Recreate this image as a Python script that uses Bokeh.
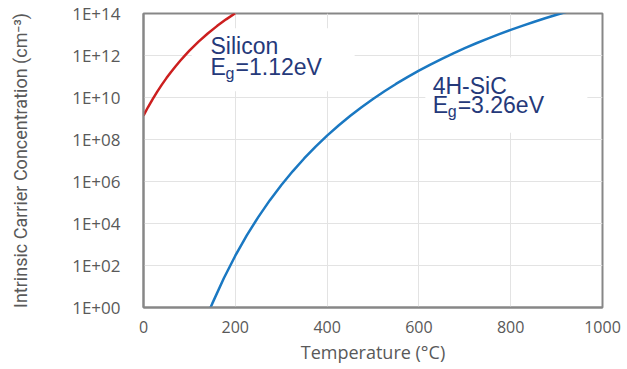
from bokeh.plotting import figure
from bokeh.models import Range1d, FixedTicker, CustomJSTickFormatter, Label
from bokeh.embed import file_html
from bokeh.resources import INLINE

# ---- data ----
si_temp = [0, 10, 20, 30, 40, 50, 60, 70, 80, 90, 100, 120, 140, 160, 180, 200]
si_conc = [1.38e9, 3.52e9, 8.45e9, 1.91e10, 4.10e10, 8.39e10, 1.65e11, 3.10e11, 5.65e11,
           9.95e11, 1.70e12, 4.57e12, 1.12e13, 2.51e13, 5.26e13, 1.03e14]

sic_temp = [146, 150, 175, 200, 225, 250, 275, 300, 325, 350, 375, 400, 425, 450, 475, 500,
            525, 550, 575, 600, 625, 650, 675, 700, 725, 750, 775, 800, 825, 850, 875, 900,
            925, 950]
sic_conc = [1.0, 1.57, 2.48e1, 2.93e2, 2.70e3, 2.02e4, 1.26e5, 6.65e5, 3.06e6, 1.25e7, 4.57e7,
            1.52e8, 4.63e8, 1.31e9, 3.44e9, 8.51e9, 1.99e10, 4.42e10, 9.35e10, 1.90e11,
            3.70e11, 6.95e11, 1.26e12, 2.23e12, 3.83e12, 6.40e12, 1.04e13, 1.66e13, 2.59e13,
            3.96e13, 5.94e13, 8.77e13, 1.27e14, 1.82e14]

x_ticks = [0, 200, 400, 600, 800, 1000]
y_ticks = [1e0, 1e2, 1e4, 1e6, 1e8, 1e10, 1e12, 1e14]
y_tick_labels = ["1E+00", "1E+02", "1E+04", "1E+06", "1E+08", "1E+10", "1E+12", "1E+14"]

si_name = "Silicon"
si_gap = "=1.12eV"
sic_name = "4H-SiC"
sic_gap = "=3.26eV"

GRAY = "#595959"
NAVY = "#25397a"

p = figure(width=627, height=369, output_backend="svg", toolbar_location=None,
           x_range=Range1d(0, 1000), y_range=Range1d(1, 1e14), y_axis_type="log",
           min_border_left=143, min_border_right=25, min_border_top=13, min_border_bottom=62)

p.background_fill_color = "white"
p.border_fill_color = "white"
p.outline_line_color = "#878787"
p.outline_line_width = 2

p.xaxis.ticker = FixedTicker(ticks=x_ticks)
p.yaxis.ticker = FixedTicker(ticks=y_ticks)
p.yaxis.formatter = CustomJSTickFormatter(args=dict(labels=y_tick_labels),
                                          code="return labels[Math.round(Math.log10(tick) / 2)];")

for ax in (p.xaxis, p.yaxis):
    ax.axis_line_color = "#878787"
    ax.axis_line_width = 2
    ax.major_tick_line_color = None
    ax.minor_tick_line_color = None
    ax.major_tick_out = 0
    ax.major_tick_in = 0
    ax.major_label_text_color = GRAY
    ax.major_label_text_font = "Open Sans"
    ax.major_label_text_font_size = "17px"

p.yaxis.major_label_standoff = 23
p.xaxis.major_label_standoff = 13
p.xaxis.major_label_text_font_size = "16px"

p.yaxis.axis_label = "Intrinsic Carrier Concentration (cm\u207b\u00b3)"
p.yaxis.axis_label_text_font = "Roboto"
p.yaxis.axis_label_text_font_size = "18px"
p.yaxis.axis_label_text_font_style = "normal"
p.yaxis.axis_label_text_color = GRAY
p.yaxis.axis_label_standoff = 38

p.xaxis.axis_label = "Temperature (\u00b0C)"
p.xaxis.axis_label_text_font = "Open Sans"
p.xaxis.axis_label_text_font_size = "18px"
p.xaxis.axis_label_text_font_style = "normal"
p.xaxis.axis_label_text_color = GRAY
p.xaxis.axis_label_standoff = 4

p.xgrid.grid_line_color = "#e3e3e3"
p.ygrid.grid_line_color = "#e3e3e3"
p.xgrid.grid_line_width = 1
p.ygrid.grid_line_width = 1
p.ygrid.minor_grid_line_color = None

# white text boxes behind the labels (over the grid, under the curves)
box_left = [105, 614]
box_right = [460, 967]
box_bottom = [2e10, 2.1e8]
box_top = [2e13, 8e11]
p.quad(left=box_left, right=box_right, bottom=box_bottom, top=box_top,
       fill_color="white", line_color=None)

p.line(si_temp, si_conc, line_color="#cc1f1f", line_width=2.5)
p.line(sic_temp, sic_conc, line_color="#1a78c2", line_width=2.5)

font = "Liberation Sans"


def add_label(x, y, name, gap):
    p.add_layout(Label(x=x, y=y[0], text=name, text_font=font, text_font_size="23px",
                       text_color=NAVY, text_baseline="alphabetic"))
    p.add_layout(Label(x=x, y=y[1], text="E", text_font=font, text_font_size="23px",
                       text_color=NAVY, text_baseline="alphabetic"))
    p.add_layout(Label(x=x, y=y[1], x_offset=15, y_offset=-6, text="g", text_font=font,
                       text_font_size="16px", text_color=NAVY, text_baseline="alphabetic"))
    p.add_layout(Label(x=x, y=y[1], x_offset=25, text=gap, text_font=font, text_font_size="23px",
                       text_color=NAVY, text_baseline="alphabetic"))


add_label(146, (2.7e12, 2.7e11), si_name, si_gap)
add_label(630, (3.7e10, 4.2e9), sic_name, sic_gap)

open("out.html", "w").write(file_html(p, INLINE))
